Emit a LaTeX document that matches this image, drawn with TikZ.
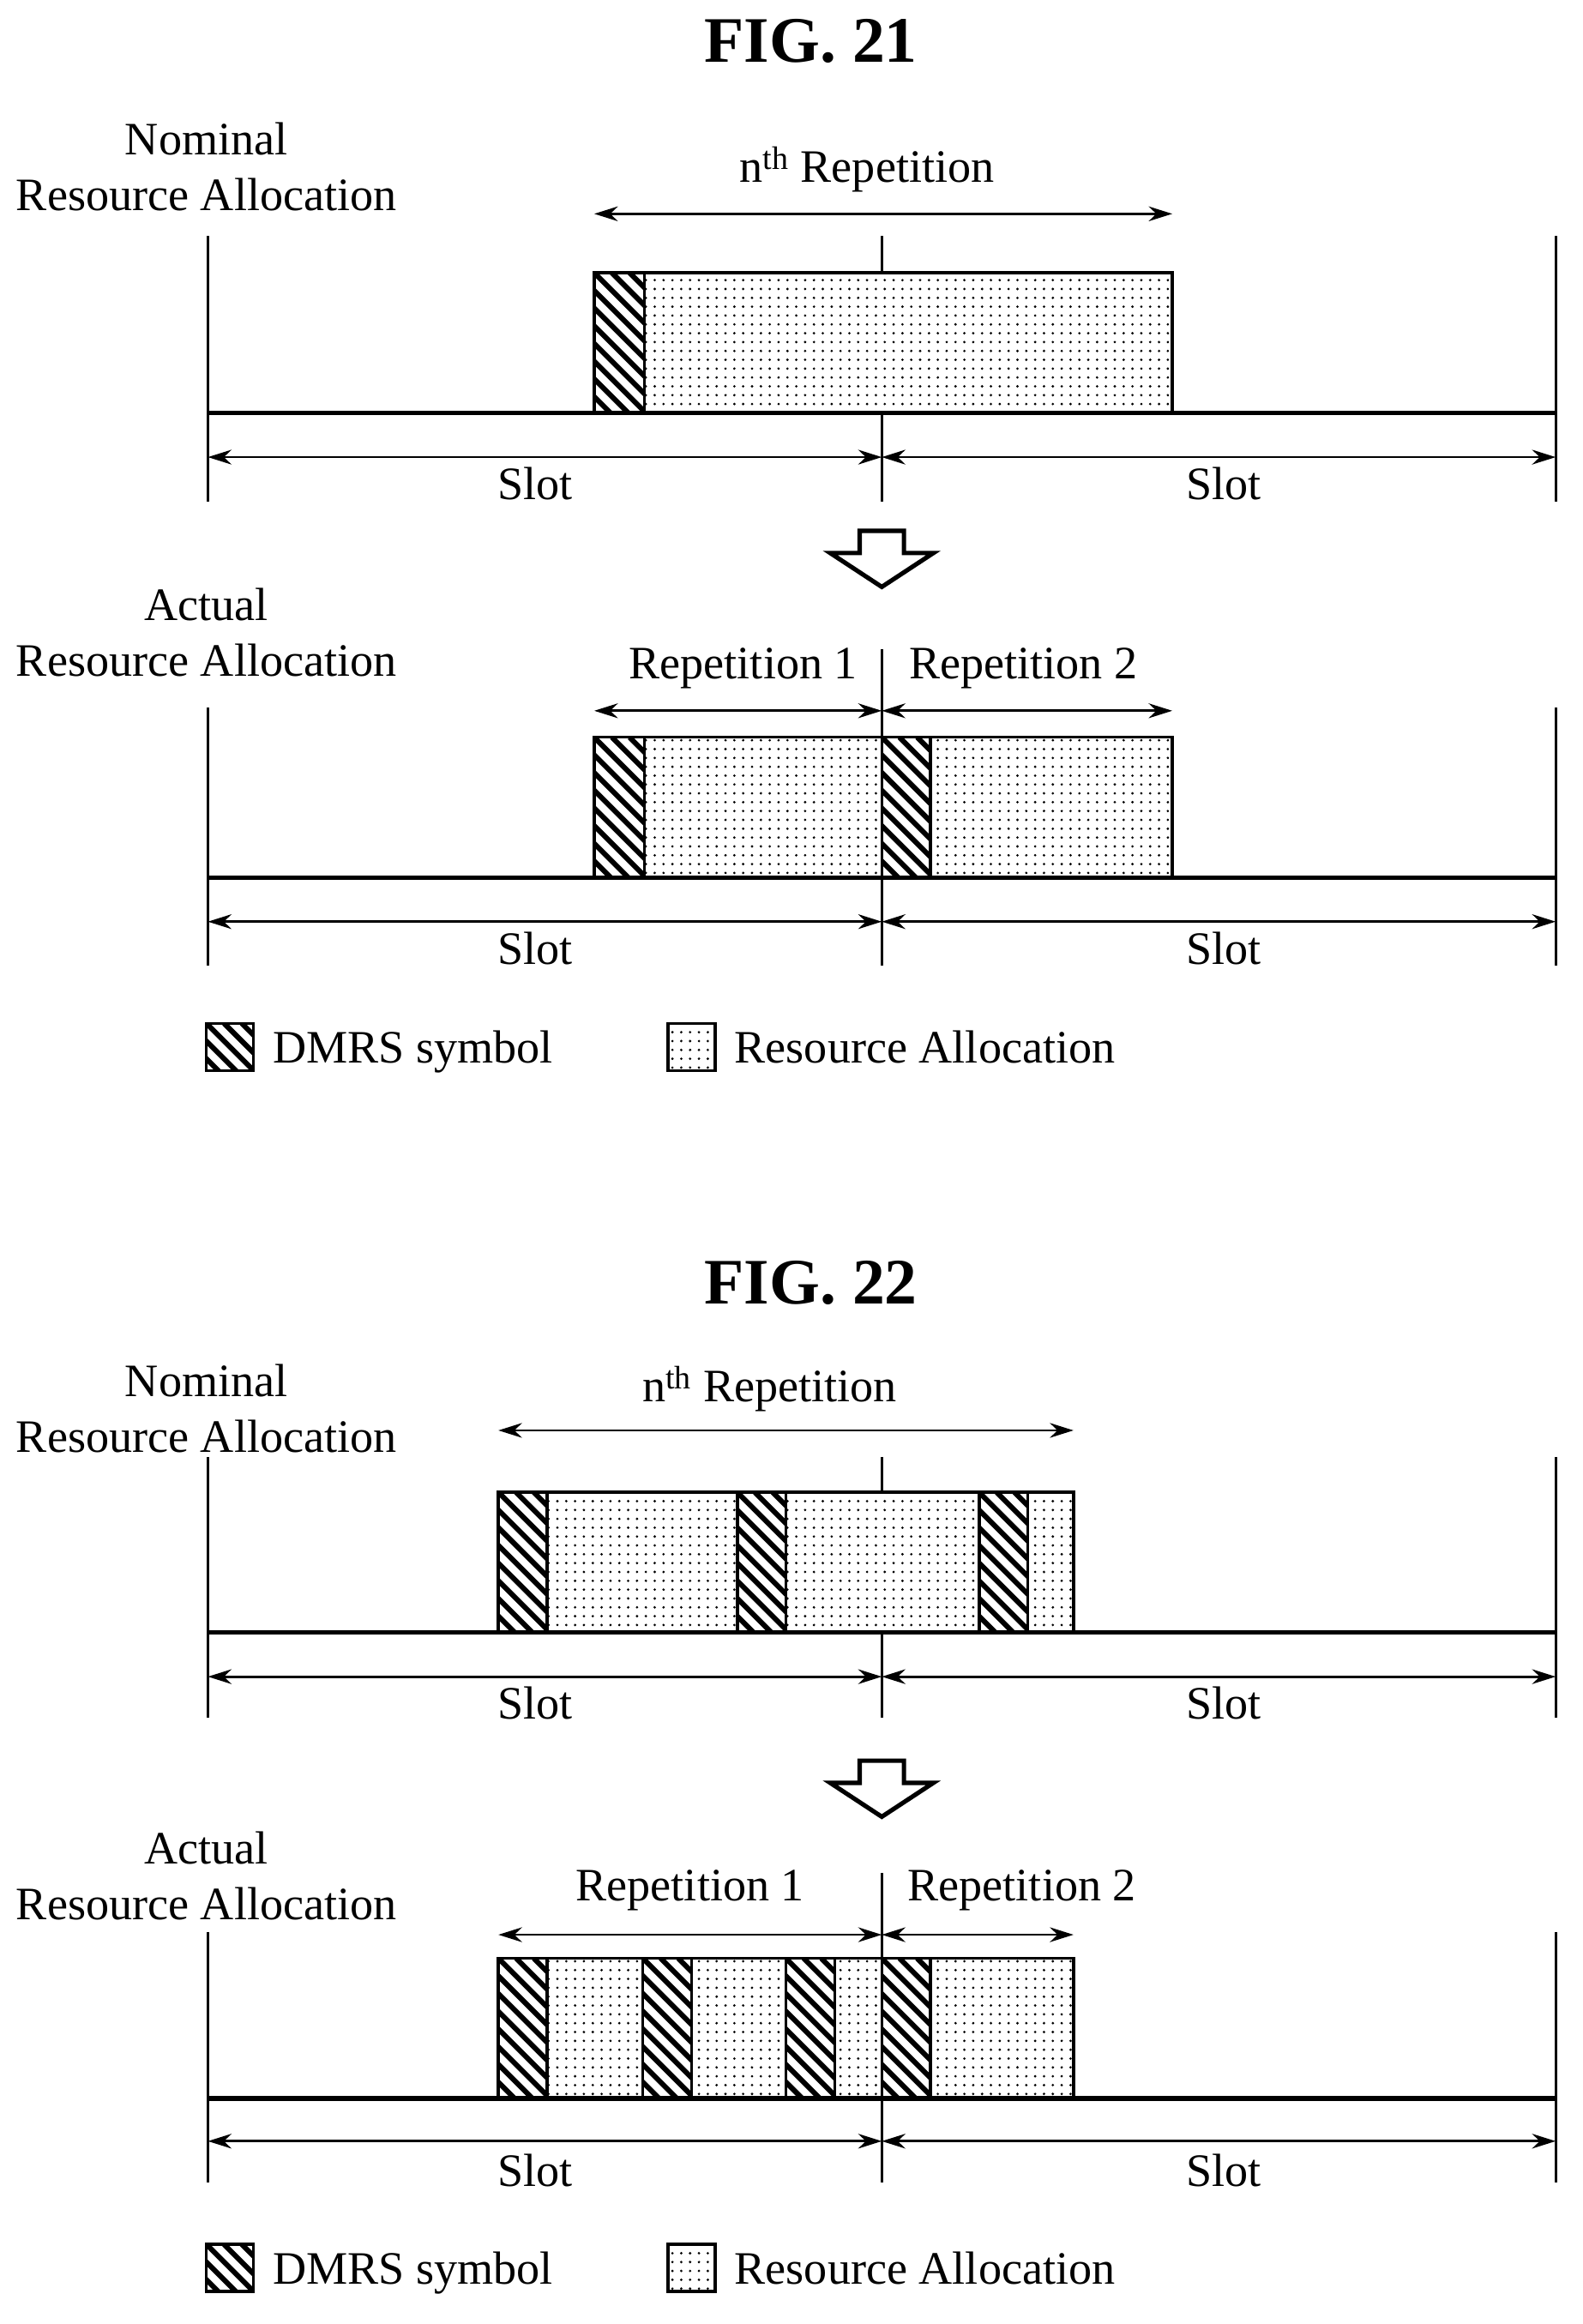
\documentclass[tikz,border=0pt]{standalone}
\usepackage{fontspec}
\setmainfont{Liberation Serif}
\usetikzlibrary{patterns.meta,arrows.meta}
\tikzset{
 lbl/.style={font=\fontsize{31.5}{33}\selectfont,inner sep=0pt},
 ttl/.style={font=\fontsize{44}{46}\selectfont\bfseries,inner sep=0pt},
 dim/.style={line width=1.6pt,{Stealth[length=16pt,width=10pt]}-{Stealth[length=16pt,width=10pt]}},
 thin/.style={line width=1.6pt},
 base/.style={line width=3pt},
 ra/.style={draw,line width=2pt,fill=white,postaction={pattern={Dots[distance=6pt,radius=0.9pt]}}},
}
\newcommand\dmrs[4]{%
 \begin{scope}
 \clip (#1,#3) rectangle (#2,#4);
 \fill[white] (#1,#3) rectangle (#2,#4);
 \foreach \k in {-120,-108,...,40}{\draw[line width=3.5pt] (#1+\k,#3) -- ++(110,110);}
 \end{scope}
 \draw[line width=2pt] (#1,#3) rectangle (#2,#4);}
\newcommand\downarr[1]{%
 \draw[line width=3pt,fill=white] (583,#1) -- (613,#1) -- (613,#1+15) -- (633,#1+15) -- (598,#1+38) -- (563,#1+15) -- (583,#1+15) -- cycle;}
\begin{document}
\begin{tikzpicture}[x=1pt,y=-1pt]
\useasboundingbox (0,0) rectangle (1073,1576);
% ---------- FIG 21
\node[ttl] (t1) at (550,28) {FIG. 21};
\node[lbl] (n1a) at (140,94) {Nominal};
\node[lbl] (n1b) at (140,132) {Resource Allocation};
\node[lbl] (r1) at (588,115) {n\textsuperscript{th} Repetition};
\coordinate (a1) at (403,145); \coordinate (b1) at (795,145);
\draw[dim] (a1) -- (b1);
\draw[thin] (141,160) -- (141,340); \draw[thin] (1055,160) -- (1055,340); \draw[thin] (598,160) -- (598,340);
\draw[ra] (403,185) rectangle (795,280);
\dmrs{403}{437}{185}{280}
\draw[base] (141,280) -- (1055,280);
\draw[dim] (141,310) -- (598,310); \draw[dim] (598,310) -- (1055,310);
\node[lbl] (s1) at (363,328) {Slot}; \node[lbl] (s2) at (830,328) {Slot};
\downarr{360}
\node[lbl] (c1a) at (140,410) {Actual};
\node[lbl] (c1b) at (140,448) {Resource Allocation};
\node[lbl] (p1) at (504,453) {Repetition 1};
\node[lbl] (p2) at (694,453) {Repetition 2};
\draw[dim] (403,482) -- (598,482); \draw[dim] (598,482) -- (795,482);
\draw[thin] (141,480) -- (141,655); \draw[thin] (1055,480) -- (1055,655); \draw[thin] (598,440) -- (598,655);
\draw[ra] (403,500) rectangle (795,595);
\dmrs{403}{437}{500}{595}\dmrs{598}{631}{500}{595}
\draw[base] (141,595) -- (1055,595);
\draw[dim] (141,625) -- (598,625); \draw[dim] (598,625) -- (1055,625);
\node[lbl] (s3) at (363,643) {Slot}; \node[lbl] (s4) at (830,643) {Slot};
\dmrs{140}{172}{694}{726}
\node[lbl,anchor=base west] (l1) at (185,721) {DMRS symbol};
\draw[ra] (453,694) rectangle (485,726);
\node[lbl,anchor=base west] (l2) at (498,721) {Resource Allocation};
% ---------- FIG 22
\node[ttl] (t2) at (550,870) {FIG. 22};
\node[lbl] (n2a) at (140,936) {Nominal};
\node[lbl] (n2b) at (140,974) {Resource Allocation};
\node[lbl] (r2) at (522,942) {n\textsuperscript{th} Repetition};
\draw[dim] (338,970) -- (728,970);
\draw[thin] (141,988) -- (141,1165); \draw[thin] (1055,988) -- (1055,1165); \draw[thin] (598,988) -- (598,1165);
\draw[ra] (338,1012) rectangle (728,1107);
\dmrs{338}{371}{1012}{1107}\dmrs{500}{533}{1012}{1107}\dmrs{664}{697}{1012}{1107}
\draw[base] (141,1107) -- (1055,1107);
\draw[dim] (141,1137) -- (598,1137); \draw[dim] (598,1137) -- (1055,1137);
\node[lbl] (s5) at (363,1155) {Slot}; \node[lbl] (s6) at (830,1155) {Slot};
\downarr{1194}
\node[lbl] (c2a) at (140,1253) {Actual};
\node[lbl] (c2b) at (140,1291) {Resource Allocation};
\node[lbl] (p3) at (468,1282) {Repetition 1};
\node[lbl] (p4) at (693,1282) {Repetition 2};
\draw[dim] (338,1312) -- (598,1312); \draw[dim] (598,1312) -- (728,1312);
\draw[thin] (141,1310) -- (141,1480); \draw[thin] (1055,1310) -- (1055,1480); \draw[thin] (598,1270) -- (598,1480);
\draw[ra] (338,1328) rectangle (728,1423);
\dmrs{338}{371}{1328}{1423}\dmrs{436}{469}{1328}{1423}\dmrs{533}{566}{1328}{1423}\dmrs{598}{631}{1328}{1423}
\draw[base] (141,1423) -- (1055,1423);
\draw[dim] (141,1452) -- (598,1452); \draw[dim] (598,1452) -- (1055,1452);
\node[lbl] (s7) at (363,1472) {Slot}; \node[lbl] (s8) at (830,1472) {Slot};
\dmrs{140}{172}{1522}{1554}
\node[lbl,anchor=base west] (l3) at (185,1549) {DMRS symbol};
\draw[ra] (453,1522) rectangle (485,1554);
\node[lbl,anchor=base west] (l4) at (498,1549) {Resource Allocation};
\end{tikzpicture}
\end{document}
